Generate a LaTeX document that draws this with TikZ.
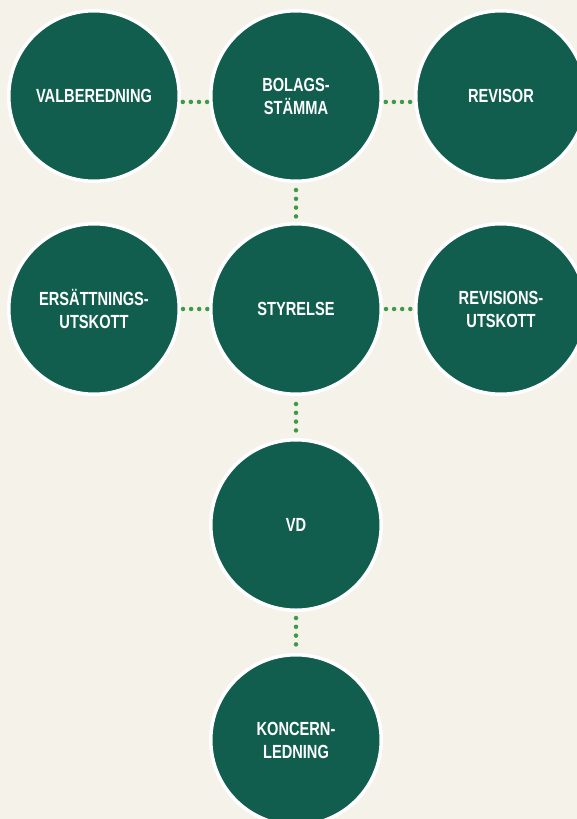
\documentclass[tikz,border=0pt]{standalone}
\usepackage{fontspec}
\setmainfont{Liberation Sans}[FakeStretch=0.77]
\definecolor{paper}{HTML}{F5F2EA}
\definecolor{boardgreen}{HTML}{115E4E}
\definecolor{dotgreen}{HTML}{3C9A48}
\tikzset{
  organ/.style={circle, fill=boardgreen, draw=white, line width=3.5pt,
    minimum size=170.5pt, inner sep=0pt, outer sep=0pt, text=white,
    align=center, font=\bfseries\fontsize{19}{23}\selectfont},
  dots/.style={dotgreen, line width=4.5pt, line cap=round,
    dash pattern=on 0pt off 8.1pt}
}
\begin{document}
\begin{tikzpicture}[x=1pt, y=-1pt]
% Background
\useasboundingbox (0,0) rectangle (577,819);
\fill[paper] (0,0) rectangle (577,819);
\clip (0,0) rectangle (577,819);

% Circles
\node[organ] (valb) at (94,96) {VALBEREDNING};
\node[organ] (stamma) at (296,96) {BOLAGS-\\STÄMMA};
\node[organ] (revisor) at (501,96) {REVISOR};
\node[organ] (ersutsk) at (94,309) {ERSÄTTNINGS-\\UTSKOTT};
\node[organ] (styrelse) at (296,309) {STYRELSE};
\node[organ] (revutsk) at (501,309) {REVISIONS-\\UTSKOTT};
\node[organ] (vd) at (296,525) {VD};
\node[organ] (ledning) at (296,740) {KONCERN-\\LEDNING};

% Dotted links
\draw[dots, shorten <=3.75pt, shorten >=2.75pt] (valb.-4) -- (stamma.184);
\draw[dots, shorten <=4.75pt, shorten >=4.75pt] (stamma.-4) -- (revisor.184);
\draw[dots, shorten <=3.75pt, shorten >=2.75pt] (ersutsk) -- (styrelse);
\draw[dots, shorten <=4.75pt, shorten >=4.75pt] (styrelse) -- (revutsk);
\draw[dots, dash pattern=on 0pt off 8.8pt, shorten <=8.75pt, shorten >=6.75pt] (stamma) -- (styrelse);
\draw[dots, dash pattern=on 0pt off 8.8pt, shorten <=9.75pt, shorten >=8.75pt] (styrelse) -- (vd);
\draw[dots, dash pattern=on 0pt off 8.8pt, shorten <=7.75pt, shorten >=9.75pt] (vd) -- (ledning);
\end{tikzpicture}
\end{document}
